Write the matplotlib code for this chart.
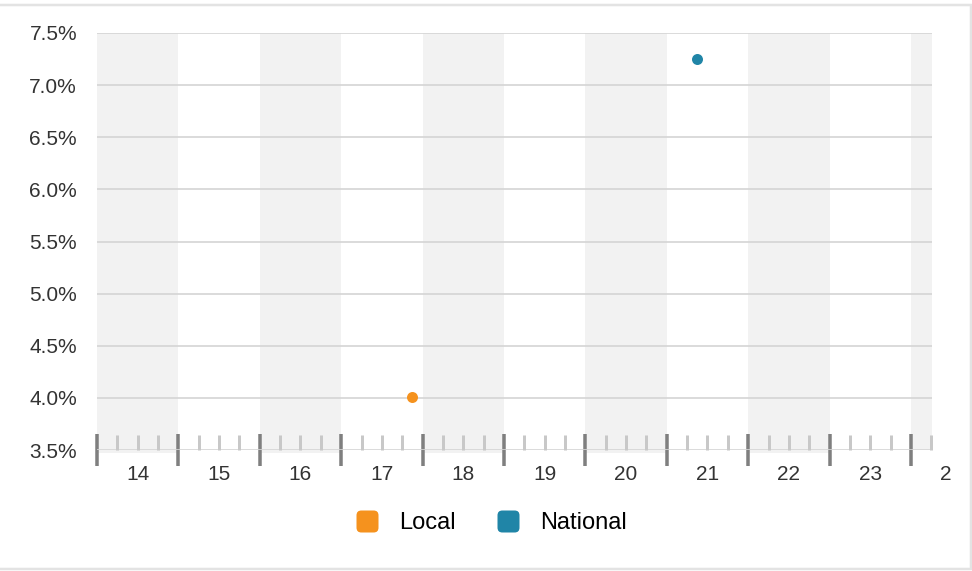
import matplotlib
matplotlib.use("Agg")
import matplotlib.pyplot as plt
from matplotlib.lines import Line2D
from matplotlib.patches import Rectangle, FancyBboxPatch
from matplotlib.transforms import Bbox, TransformedBbox
import numpy as np

plt.rcParams['font.family'] = ['Liberation Sans', 'DejaVu Sans']

# Data
series_names = ["Local", "National"]
series_colors = ["#f5921e", "#2085a7"]
local_x = [17.37]
local_y = [4.01]
national_x = [20.87]
national_y = [7.25]
day_labels = [14, 15, 16, 17, 18, 19, 20, 21, 22, 23, 24]
y_ticks = [3.5, 4.0, 4.5, 5.0, 5.5, 6.0, 6.5, 7.0, 7.5]

W, H = 972, 571
fig = plt.figure(figsize=(W / 100, H / 100), dpi=100)
px = 0.72  # points per pixel

ax = fig.add_axes([97 / W, 1 - 450 / H, (932 - 97) / W, (450 - 33) / H])
x0 = 13.5
x1 = 13.5 + (932 - 97) / 81.4

# alternating bands
for d in day_labels:
    if d % 2 == 0:
        ax.axvspan(d - 0.5, d + 0.5, ymin=-0.006, ymax=1, color="#f2f2f2", zorder=0, lw=0,
                   clip_on=False if d < 24 else True)

# grid
for yv in y_ticks:
    ax.axhline(yv, color="#d4d4d4", lw=1.2, zorder=1)

for s in ax.spines.values():
    s.set_visible(False)

ax.set_yticks(y_ticks)
ax.set_yticklabels([f"{v:.1f}%" for v in y_ticks])
ax.tick_params(axis='y', length=0, pad=20 * px, labelsize=15, labelcolor="#333333")

ax.set_xticks(day_labels)
ax.set_xticklabels([str(d) for d in day_labels])
ax.tick_params(axis='x', which='major', length=0, pad=15 * px, labelsize=15, labelcolor="#333333")

# minor quarter ticks
ax.xaxis.remove_overlapping_locs = False
quarters = [b + q for b in np.arange(13.5, 24.5, 1.0) for q in (0.25, 0.5, 0.75)]
ax.set_xticks(quarters, minor=True)
ax.tick_params(axis='x', which='minor', direction='in', length=15 * px, width=3 * px, color="#c8c8c8")

# day boundary ticks
sec = ax.secondary_xaxis('bottom')
sec.set_xticks(list(np.arange(13.5, 24.0, 1.0)))
sec.set_xticklabels([])
sec.tick_params(axis='x', direction='inout', length=32 * px, width=3.5 * px, color="#7f7f7f")
sec.spines['bottom'].set_visible(False)

ax.set_xlim(x0, x1)
ax.set_ylim(3.5, 7.5)

# last label, partially cut off beyond the plot
last = day_labels[-1]
t = ax.annotate(str(last), xy=(last, 0), xycoords=ax.get_xaxis_transform(),
                xytext=(0, -15 * px), textcoords='offset points', ha='center', va='top',
                fontsize=15, color="#333333", annotation_clip=False)
t.set_clip_on(True)
t.set_clip_box(TransformedBbox(Bbox([[0, 0], [952 / W, 1]]), fig.transFigure))

# points
ax.scatter(local_x, local_y, s=(11 * px) ** 2, color=series_colors[0], zorder=5, lw=0)
ax.scatter(national_x, national_y, s=(11 * px) ** 2, color=series_colors[1], zorder=5, lw=0)

# legend
rounded = FancyBboxPatch((-0.5, -0.5), 1, 1, boxstyle="round,pad=0,rounding_size=0.22").get_path()
handles = [Line2D([], [], ls='none', marker=rounded, markersize=22 * px, color=c, markeredgewidth=0)
           for c in series_colors]
fig.legend(handles, series_names, loc='center', bbox_to_anchor=(491 / W, 1 - 523 / H),
           ncol=2, frameon=False, fontsize=17, handlelength=1.0, handletextpad=0.85,
           columnspacing=1.75)

# figure border
fig.patches.append(Rectangle((-0.01, 1 - 568.5 / H), 0.01 + 970.5 / W, (568.5 - 4.5) / H,
                             transform=fig.transFigure, fill=False, edgecolor="#e3e3e3", lw=2.5 * px))

fig.savefig("out.png", dpi=100)
